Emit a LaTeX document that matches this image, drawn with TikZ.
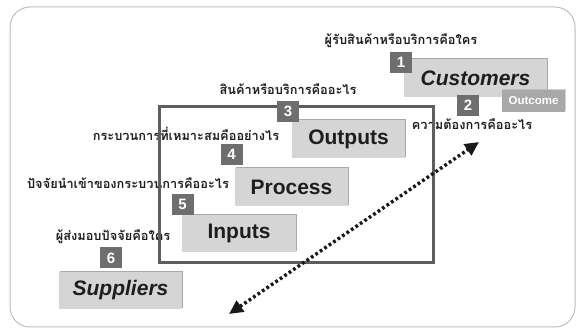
\documentclass[tikz,border=0pt]{standalone}
\usepackage{fontspec}
\setmainfont{Liberation Sans}
\newfontfamily\thaifont[Script=Thai]{Loma}
\usetikzlibrary{shadows,arrows.meta}
\definecolor{boxfill}{HTML}{D5D5D5}
\definecolor{numfill}{HTML}{6E6E6E}
\definecolor{outfill}{HTML}{A8A8A8}
\definecolor{framecol}{HTML}{5E5E5E}
\definecolor{outercol}{HTML}{BDBDBD}
\definecolor{txtcol}{HTML}{1E1E1E}
\tikzset{
  mainbox/.style={fill=boxfill, draw=none, inner sep=0pt, text=txtcol,
    font=\fontsize{21}{24}\selectfont\bfseries,
    drop shadow={shadow xshift=1.2pt, shadow yshift=1.2pt, fill=gray!75, opacity=0.9}},
  numbox/.style={fill=numfill, draw=none, minimum width=22pt, minimum height=21pt,
    inner sep=0pt, text=white, font=\fontsize{15}{17}\selectfont\bfseries},
  outbox/.style={fill=outfill, draw=none, minimum width=63pt, minimum height=22pt,
    inner sep=0pt, text=white, font=\fontsize{11.5}{13}\selectfont\bfseries,
    drop shadow={shadow xshift=1pt, shadow yshift=1pt, fill=gray!70}},
  qtext/.style={inner sep=0pt, text=txtcol, font=\thaifont\bfseries\fontsize{12.8}{14}\selectfont},
  dotarrow/.style={line width=3.4pt, dash pattern=on 2.8pt off 2.6pt, color=black!90,
    {Triangle[length=14pt,width=13pt]}-{Triangle[length=14pt,width=13pt]}}
}
\begin{document}
\begin{tikzpicture}[x=1pt,y=-1pt]
\useasboundingbox (0,0) rectangle (576,328);
% outer frame
\draw[outercol, line width=1pt, rounded corners=20pt] (10,7) rectangle (575,327);
% question texts
\node[qtext] (q1) at (401,41) {ผู้รับสินค้าหรือบริการคือใคร};
\node[qtext] (q3) at (288,89) {สินค้าหรือบริการคืออะไร};
\node[qtext] (q2) at (472,124) {ความต้องการคืออะไร};
\node[qtext] (q4) at (186,134) {กระบวนการที่เหมาะสมคืออย่างไร};
\node[qtext] (q5) at (128,183) {ปัจจัยนำเข้าของกระบวนการคืออะไร};
\node[qtext] (q6) at (113,237) {ผู้ส่งมอบปัจจัยคือใคร};
% inner frame
\draw[framecol, line width=3pt] (159,107) rectangle (433,263);
% main boxes
\node[mainbox, minimum width=143pt, minimum height=38pt, font=\fontsize{21}{24}\selectfont\bfseries\itshape] (cust) at (475.5,78) {Customers};
\node[mainbox, minimum width=113pt, minimum height=38pt] (outp) at (348.5,139) {Outputs};
\node[mainbox, minimum width=113pt, minimum height=38pt] (proc) at (291.5,187) {Process};
\node[mainbox, minimum width=114pt, minimum height=37pt] (inp) at (239,233.5) {Inputs};
\node[mainbox, minimum width=123pt, minimum height=37pt, font=\fontsize{21}{24}\selectfont\bfseries\itshape] (supp) at (120.5,290.5) {Suppliers};
% outcome
\node[outbox] (outc) at (533.5,101) {Outcome};
% number boxes
\node[numbox] (n1) at (401,62.5) {1};
\node[numbox] (n2) at (468,105.5) {2};
\node[numbox] (n3) at (288,111.5) {3};
\node[numbox] (n4) at (231.5,154.5) {4};
\node[numbox] (n5) at (182.5,204.5) {5};
\node[numbox] (n6) at (111,258) {6};
% arrow
\coordinate (alow) at (229,314);
\coordinate (ahigh) at (479,142);
\draw[dotarrow] (alow) -- (ahigh);
\end{tikzpicture}
\end{document}
